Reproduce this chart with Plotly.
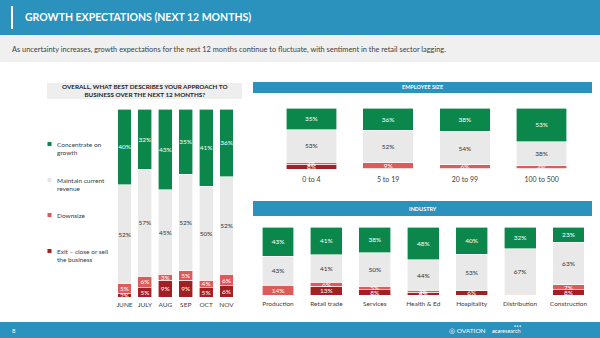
import plotly.graph_objects as go

W, H = 600, 338

# ---------------- data ----------------
series_names = ["Exit – close or sell the business", "Downsize", "Maintain current revenue", "Concentrate on growth"]

months = ["JUNE", "JULY", "AUG", "SEP", "OCT", "NOV"]
m_growth = [40, 32, 43, 35, 41, 36]
m_maintain = [52, 57, 45, 52, 50, 52]
m_downsize = [5, 6, 3, 5, 4, 6]
m_exit = [2, 5, 9, 9, 5, 6]

emp = ["0 to 4", "5 to 19", "20 to 99", "100 to 500"]
e_growth = [35, 36, 38, 53]
e_maintain = [53, 52, 54, 38]
e_downsize = [3, 9, 6, 4]
e_exit = [8, 1, 1, 1]

ind = ["Production", "Retail trade", "Services", "Health & Ed", "Hospitality", "Distribution", "Construction"]
i_growth = [43, 41, 38, 48, 40, 32, 23]
i_maintain = [43, 41, 50, 44, 53, 67, 63]
i_downsize = [14, 6, 5, 3, 0, 1, 7]
i_exit = [0, 13, 8, 4, 6, 0, 8]

# ---------------- style ----------------
BLUE = "#2a92bd"
C_GROWTH = "#0b874b"
C_MAINT = "#e9e9e9"
C_DOWN = "#de5b5b"
C_EXIT = "#a21f24"
colors = [C_EXIT, C_DOWN, C_MAINT, C_GROWTH]
txtcol = ["white", "white", "#333333", "white"]
FONT = "Lato"


def px_x(x):
    return x / W


def px_y(y):
    return 1 - y / H


fig = go.Figure()


def add_stack(cats, vals_list, xa, ya, width, fsize):
    for name, vals, col, tc in zip(series_names, vals_list, colors, txtcol):
        fig.add_trace(go.Bar(
            x=cats, y=vals, name=name, xaxis=xa, yaxis=ya,
            marker=dict(color=col, line=dict(color="white", width=0.6)),
            width=width,
            text=[f"{v}%" if v >= 2 else "" for v in vals],
            textposition="inside", insidetextanchor="middle", textangle=0,
            textfont=dict(color=tc, size=fsize, family=FONT),
            constraintext="none", cliponaxis=False,
            showlegend=False, hoverinfo="skip",
        ))


add_stack(months, [m_exit, m_downsize, m_maintain, m_growth], "x", "y", 0.68, 6.5)
add_stack(emp, [e_exit, e_downsize, e_maintain, e_growth], "x2", "y2", 0.66, 6.5)
add_stack(ind, [i_exit, i_downsize, i_maintain, i_growth], "x3", "y3", 0.66, 6.5)

axis_common = dict(showgrid=False, zeroline=False, showline=False, ticks="",
                   tickfont=dict(family=FONT, size=6.5, color="#404040"))
yax_common = dict(range=[0, 100], visible=False, fixedrange=True)

fig.update_layout(
    width=W, height=H, autosize=False,
    margin=dict(l=0, r=0, t=0, b=0),
    paper_bgcolor="white", plot_bgcolor="rgba(0,0,0,0)",
    barmode="stack", barnorm="percent",
    uniformtext=dict(minsize=6, mode="show"),
    xaxis=dict(domain=[px_x(114.3), px_x(236.7)], range=[-0.5, 5.5], anchor="y",
               ticklabelstandoff=2, **axis_common),
    yaxis=dict(domain=[px_y(297), px_y(109)], anchor="x", **yax_common),
    xaxis2=dict(domain=[px_x(273), px_x(580)], range=[-0.5, 3.5], anchor="y2",
                ticklabelstandoff=5,
                **{**axis_common, "tickfont": dict(family=FONT, size=7, color="#404040")}),
    yaxis2=dict(domain=[px_y(169), px_y(108)], anchor="x2", **yax_common),
    xaxis3=dict(domain=[px_x(253.8), px_x(592.7)], range=[-0.5, 6.5], anchor="y3",
                ticklabelstandoff=3, **axis_common),
    yaxis3=dict(domain=[px_y(295), px_y(227)], anchor="x3", **yax_common),
)

shapes = []
annots = []


def rect(x0, y0, x1, y1, color, layer="below"):
    shapes.append(dict(type="rect", xref="paper", yref="paper",
                       x0=px_x(x0), x1=px_x(x1), y0=px_y(y1), y1=px_y(y0),
                       fillcolor=color, line=dict(width=0), layer=layer))


def text(x, y, s, size, color="#333333", bold=False, anchor="left", family=FONT):
    if bold:
        s = f"<b>{s}</b>"
    annots.append(dict(xref="paper", yref="paper", x=px_x(x), y=px_y(y), text=s,
                       showarrow=False, xanchor=anchor, yanchor="middle",
                       font=dict(size=size, color=color, family=family), align="center"))


# header
rect(0, 0, 600, 35, BLUE)
rect(11, 6, 13, 29, "white", layer="above")
text(23, 17.5, "GROWTH EXPECTATIONS (NEXT 12 MONTHS)", 10.5, "white", bold=True)
rect(0, 35, 600, 62, "#f0f0f0")
text(10, 50, "As uncertainty increases, growth expectations for the next 12 months continue to fluctuate, with sentiment in the retail sector lagging.", 7.4, "#404040")

# question box
rect(47, 83, 242, 99, "#eeeeee")
text(144.5, 91, "OVERALL, WHAT BEST DESCRIBES YOUR APPROACH TO<br>BUSINESS OVER THE NEXT 12 MONTHS?", 6.3, "#262626", bold=True, anchor="center")

# section headers
rect(253, 82, 592, 93, BLUE)
text(422.5, 87.5, "EMPLOYEE SIZE", 5.5, "white", bold=True, anchor="center")
rect(253, 201, 592, 216, BLUE)
text(422.5, 208.5, "INDUSTRY", 5.5, "white", bold=True, anchor="center")

# legend (manual)
leg = [("Concentrate on<br>growth", C_GROWTH, 144, 148),
       ("Maintain current<br>revenue", "#e6e6e6", 180, 184),
       ("Downsize", C_DOWN, 215, 215),
       ("Exit – close or sell<br>the business", C_EXIT, 251, 255)]
for label, col, ysq, ytxt in leg:
    rect(47.5, ysq - 2, 51.5, ysq + 2, col)
    annots.append(dict(xref="paper", yref="paper", x=px_x(55), y=px_y(ytxt), text=label,
                       showarrow=False, xanchor="left", yanchor="middle", align="left",
                       font=dict(size=6.5, color="#404040", family=FONT)))

# footer
rect(0, 322, 600, 338, BLUE)
text(10, 330, "8", 6, "white")
text(447, 330, "◎ OVATION", 6.5, "white")
text(490, 331, "<b>aca</b>research", 5.5, "white")
text(512, 325.5, "● ● ●", 3, "white")

fig.update_layout(shapes=shapes, annotations=annots)

fig.write_html("out.html")
